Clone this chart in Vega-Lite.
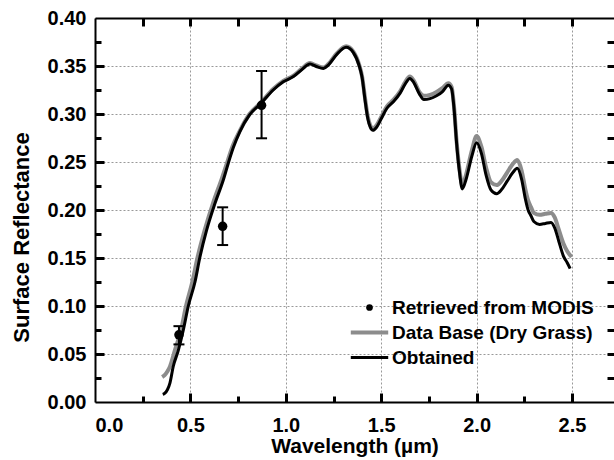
{
  "$schema": "https://vega.github.io/schema/vega-lite/v6.json",
  "width": 519,
  "height": 384,
  "autosize": {"type": "none"},
  "padding": {"left": 95, "top": 18, "right": 0, "bottom": 58},
  "background": "white",
  "config": {
    "view": {"stroke": null},
    "axis": {
      "labelFont": "Liberation Sans", "labelFontWeight": "bold", "labelFontSize": 20, "labelColor": "black",
      "titleFont": "Liberation Sans", "titleFontWeight": "bold", "titleFontSize": 21, "titleColor": "black",
      "domain": false, "domainColor": "black", "domainWidth": 2, "grid": false
    }
  },
  "datasets": {
    "curves": [
      {"series": "Data Base (Dry Grass)", "wavelength": 0.352, "reflectance": 0.026},
      {"series": "Data Base (Dry Grass)", "wavelength": 0.365, "reflectance": 0.028},
      {"series": "Data Base (Dry Grass)", "wavelength": 0.38, "reflectance": 0.032},
      {"series": "Data Base (Dry Grass)", "wavelength": 0.393, "reflectance": 0.037},
      {"series": "Data Base (Dry Grass)", "wavelength": 0.419, "reflectance": 0.054},
      {"series": "Data Base (Dry Grass)", "wavelength": 0.451, "reflectance": 0.075},
      {"series": "Data Base (Dry Grass)", "wavelength": 0.477, "reflectance": 0.100},
      {"series": "Data Base (Dry Grass)", "wavelength": 0.51, "reflectance": 0.125},
      {"series": "Data Base (Dry Grass)", "wavelength": 0.538, "reflectance": 0.151},
      {"series": "Data Base (Dry Grass)", "wavelength": 0.575, "reflectance": 0.179},
      {"series": "Data Base (Dry Grass)", "wavelength": 0.62, "reflectance": 0.208},
      {"series": "Data Base (Dry Grass)", "wavelength": 0.665, "reflectance": 0.233},
      {"series": "Data Base (Dry Grass)", "wavelength": 0.695, "reflectance": 0.251},
      {"series": "Data Base (Dry Grass)", "wavelength": 0.72, "reflectance": 0.266},
      {"series": "Data Base (Dry Grass)", "wavelength": 0.76, "reflectance": 0.283},
      {"series": "Data Base (Dry Grass)", "wavelength": 0.81, "reflectance": 0.300},
      {"series": "Data Base (Dry Grass)", "wavelength": 0.87, "reflectance": 0.312},
      {"series": "Data Base (Dry Grass)", "wavelength": 0.934, "reflectance": 0.326},
      {"series": "Data Base (Dry Grass)", "wavelength": 0.987, "reflectance": 0.3345},
      {"series": "Data Base (Dry Grass)", "wavelength": 1.04, "reflectance": 0.340},
      {"series": "Data Base (Dry Grass)", "wavelength": 1.083, "reflectance": 0.347},
      {"series": "Data Base (Dry Grass)", "wavelength": 1.127, "reflectance": 0.353},
      {"series": "Data Base (Dry Grass)", "wavelength": 1.16, "reflectance": 0.3505},
      {"series": "Data Base (Dry Grass)", "wavelength": 1.197, "reflectance": 0.3485},
      {"series": "Data Base (Dry Grass)", "wavelength": 1.223, "reflectance": 0.352},
      {"series": "Data Base (Dry Grass)", "wavelength": 1.267, "reflectance": 0.363},
      {"series": "Data Base (Dry Grass)", "wavelength": 1.316, "reflectance": 0.3705},
      {"series": "Data Base (Dry Grass)", "wavelength": 1.354, "reflectance": 0.365},
      {"series": "Data Base (Dry Grass)", "wavelength": 1.385, "reflectance": 0.351},
      {"series": "Data Base (Dry Grass)", "wavelength": 1.40, "reflectance": 0.339},
      {"series": "Data Base (Dry Grass)", "wavelength": 1.415, "reflectance": 0.317},
      {"series": "Data Base (Dry Grass)", "wavelength": 1.43, "reflectance": 0.297},
      {"series": "Data Base (Dry Grass)", "wavelength": 1.443, "reflectance": 0.288},
      {"series": "Data Base (Dry Grass)", "wavelength": 1.457, "reflectance": 0.285},
      {"series": "Data Base (Dry Grass)", "wavelength": 1.475, "reflectance": 0.288},
      {"series": "Data Base (Dry Grass)", "wavelength": 1.50, "reflectance": 0.297},
      {"series": "Data Base (Dry Grass)", "wavelength": 1.53, "reflectance": 0.308},
      {"series": "Data Base (Dry Grass)", "wavelength": 1.565, "reflectance": 0.315},
      {"series": "Data Base (Dry Grass)", "wavelength": 1.60, "reflectance": 0.324},
      {"series": "Data Base (Dry Grass)", "wavelength": 1.625, "reflectance": 0.333},
      {"series": "Data Base (Dry Grass)", "wavelength": 1.65, "reflectance": 0.339},
      {"series": "Data Base (Dry Grass)", "wavelength": 1.67, "reflectance": 0.335},
      {"series": "Data Base (Dry Grass)", "wavelength": 1.70, "reflectance": 0.323},
      {"series": "Data Base (Dry Grass)", "wavelength": 1.724, "reflectance": 0.319},
      {"series": "Data Base (Dry Grass)", "wavelength": 1.756, "reflectance": 0.320},
      {"series": "Data Base (Dry Grass)", "wavelength": 1.79, "reflectance": 0.323},
      {"series": "Data Base (Dry Grass)", "wavelength": 1.82, "reflectance": 0.327},
      {"series": "Data Base (Dry Grass)", "wavelength": 1.852, "reflectance": 0.332},
      {"series": "Data Base (Dry Grass)", "wavelength": 1.869, "reflectance": 0.328},
      {"series": "Data Base (Dry Grass)", "wavelength": 1.882, "reflectance": 0.307},
      {"series": "Data Base (Dry Grass)", "wavelength": 1.895, "reflectance": 0.272},
      {"series": "Data Base (Dry Grass)", "wavelength": 1.91, "reflectance": 0.243},
      {"series": "Data Base (Dry Grass)", "wavelength": 1.925, "reflectance": 0.226},
      {"series": "Data Base (Dry Grass)", "wavelength": 1.945, "reflectance": 0.237},
      {"series": "Data Base (Dry Grass)", "wavelength": 1.975, "reflectance": 0.262},
      {"series": "Data Base (Dry Grass)", "wavelength": 2.0, "reflectance": 0.277},
      {"series": "Data Base (Dry Grass)", "wavelength": 2.025, "reflectance": 0.266},
      {"series": "Data Base (Dry Grass)", "wavelength": 2.05, "reflectance": 0.244},
      {"series": "Data Base (Dry Grass)", "wavelength": 2.075, "reflectance": 0.229},
      {"series": "Data Base (Dry Grass)", "wavelength": 2.105, "reflectance": 0.226},
      {"series": "Data Base (Dry Grass)", "wavelength": 2.13, "reflectance": 0.230},
      {"series": "Data Base (Dry Grass)", "wavelength": 2.16, "reflectance": 0.239},
      {"series": "Data Base (Dry Grass)", "wavelength": 2.19, "reflectance": 0.248},
      {"series": "Data Base (Dry Grass)", "wavelength": 2.213, "reflectance": 0.252},
      {"series": "Data Base (Dry Grass)", "wavelength": 2.236, "reflectance": 0.241},
      {"series": "Data Base (Dry Grass)", "wavelength": 2.255, "reflectance": 0.222},
      {"series": "Data Base (Dry Grass)", "wavelength": 2.27, "reflectance": 0.210},
      {"series": "Data Base (Dry Grass)", "wavelength": 2.285, "reflectance": 0.203},
      {"series": "Data Base (Dry Grass)", "wavelength": 2.30, "reflectance": 0.197},
      {"series": "Data Base (Dry Grass)", "wavelength": 2.33, "reflectance": 0.195},
      {"series": "Data Base (Dry Grass)", "wavelength": 2.36, "reflectance": 0.196},
      {"series": "Data Base (Dry Grass)", "wavelength": 2.39, "reflectance": 0.197},
      {"series": "Data Base (Dry Grass)", "wavelength": 2.41, "reflectance": 0.192},
      {"series": "Data Base (Dry Grass)", "wavelength": 2.43, "reflectance": 0.180},
      {"series": "Data Base (Dry Grass)", "wavelength": 2.455, "reflectance": 0.165},
      {"series": "Data Base (Dry Grass)", "wavelength": 2.475, "reflectance": 0.157},
      {"series": "Data Base (Dry Grass)", "wavelength": 2.498, "reflectance": 0.151},
      {"series": "Obtained", "wavelength": 0.355, "reflectance": 0.008},
      {"series": "Obtained", "wavelength": 0.365, "reflectance": 0.009},
      {"series": "Obtained", "wavelength": 0.38, "reflectance": 0.013},
      {"series": "Obtained", "wavelength": 0.393, "reflectance": 0.020},
      {"series": "Obtained", "wavelength": 0.41, "reflectance": 0.037},
      {"series": "Obtained", "wavelength": 0.437, "reflectance": 0.054},
      {"series": "Obtained", "wavelength": 0.463, "reflectance": 0.075},
      {"series": "Obtained", "wavelength": 0.489, "reflectance": 0.100},
      {"series": "Obtained", "wavelength": 0.524, "reflectance": 0.125},
      {"series": "Obtained", "wavelength": 0.55, "reflectance": 0.151},
      {"series": "Obtained", "wavelength": 0.585, "reflectance": 0.179},
      {"series": "Obtained", "wavelength": 0.629, "reflectance": 0.207},
      {"series": "Obtained", "wavelength": 0.672, "reflectance": 0.231},
      {"series": "Obtained", "wavelength": 0.699, "reflectance": 0.249},
      {"series": "Obtained", "wavelength": 0.725, "reflectance": 0.265},
      {"series": "Obtained", "wavelength": 0.76, "reflectance": 0.282},
      {"series": "Obtained", "wavelength": 0.81, "reflectance": 0.299},
      {"series": "Obtained", "wavelength": 0.87, "reflectance": 0.311},
      {"series": "Obtained", "wavelength": 0.934, "reflectance": 0.325},
      {"series": "Obtained", "wavelength": 0.987, "reflectance": 0.3335},
      {"series": "Obtained", "wavelength": 1.04, "reflectance": 0.339},
      {"series": "Obtained", "wavelength": 1.083, "reflectance": 0.346},
      {"series": "Obtained", "wavelength": 1.127, "reflectance": 0.352},
      {"series": "Obtained", "wavelength": 1.16, "reflectance": 0.3495},
      {"series": "Obtained", "wavelength": 1.197, "reflectance": 0.3475},
      {"series": "Obtained", "wavelength": 1.223, "reflectance": 0.351},
      {"series": "Obtained", "wavelength": 1.267, "reflectance": 0.362},
      {"series": "Obtained", "wavelength": 1.316, "reflectance": 0.3695},
      {"series": "Obtained", "wavelength": 1.354, "reflectance": 0.364},
      {"series": "Obtained", "wavelength": 1.385, "reflectance": 0.350},
      {"series": "Obtained", "wavelength": 1.40, "reflectance": 0.338},
      {"series": "Obtained", "wavelength": 1.415, "reflectance": 0.315},
      {"series": "Obtained", "wavelength": 1.43, "reflectance": 0.295},
      {"series": "Obtained", "wavelength": 1.443, "reflectance": 0.286},
      {"series": "Obtained", "wavelength": 1.457, "reflectance": 0.283},
      {"series": "Obtained", "wavelength": 1.475, "reflectance": 0.286},
      {"series": "Obtained", "wavelength": 1.50, "reflectance": 0.295},
      {"series": "Obtained", "wavelength": 1.53, "reflectance": 0.306},
      {"series": "Obtained", "wavelength": 1.565, "reflectance": 0.313},
      {"series": "Obtained", "wavelength": 1.60, "reflectance": 0.322},
      {"series": "Obtained", "wavelength": 1.625, "reflectance": 0.331},
      {"series": "Obtained", "wavelength": 1.65, "reflectance": 0.337},
      {"series": "Obtained", "wavelength": 1.67, "reflectance": 0.333},
      {"series": "Obtained", "wavelength": 1.70, "reflectance": 0.321},
      {"series": "Obtained", "wavelength": 1.724, "reflectance": 0.315},
      {"series": "Obtained", "wavelength": 1.756, "reflectance": 0.316},
      {"series": "Obtained", "wavelength": 1.79, "reflectance": 0.319},
      {"series": "Obtained", "wavelength": 1.82, "reflectance": 0.323},
      {"series": "Obtained", "wavelength": 1.852, "reflectance": 0.330},
      {"series": "Obtained", "wavelength": 1.869, "reflectance": 0.326},
      {"series": "Obtained", "wavelength": 1.882, "reflectance": 0.305},
      {"series": "Obtained", "wavelength": 1.895, "reflectance": 0.270},
      {"series": "Obtained", "wavelength": 1.91, "reflectance": 0.240},
      {"series": "Obtained", "wavelength": 1.925, "reflectance": 0.222},
      {"series": "Obtained", "wavelength": 1.945, "reflectance": 0.232},
      {"series": "Obtained", "wavelength": 1.975, "reflectance": 0.256},
      {"series": "Obtained", "wavelength": 2.0, "reflectance": 0.270},
      {"series": "Obtained", "wavelength": 2.025, "reflectance": 0.259},
      {"series": "Obtained", "wavelength": 2.05, "reflectance": 0.236},
      {"series": "Obtained", "wavelength": 2.075, "reflectance": 0.221},
      {"series": "Obtained", "wavelength": 2.105, "reflectance": 0.217},
      {"series": "Obtained", "wavelength": 2.13, "reflectance": 0.221},
      {"series": "Obtained", "wavelength": 2.16, "reflectance": 0.230},
      {"series": "Obtained", "wavelength": 2.19, "reflectance": 0.239},
      {"series": "Obtained", "wavelength": 2.213, "reflectance": 0.2435},
      {"series": "Obtained", "wavelength": 2.236, "reflectance": 0.232},
      {"series": "Obtained", "wavelength": 2.255, "reflectance": 0.212},
      {"series": "Obtained", "wavelength": 2.27, "reflectance": 0.200},
      {"series": "Obtained", "wavelength": 2.285, "reflectance": 0.194},
      {"series": "Obtained", "wavelength": 2.30, "reflectance": 0.188},
      {"series": "Obtained", "wavelength": 2.33, "reflectance": 0.185},
      {"series": "Obtained", "wavelength": 2.36, "reflectance": 0.186},
      {"series": "Obtained", "wavelength": 2.39, "reflectance": 0.187},
      {"series": "Obtained", "wavelength": 2.41, "reflectance": 0.181},
      {"series": "Obtained", "wavelength": 2.43, "reflectance": 0.168},
      {"series": "Obtained", "wavelength": 2.455, "reflectance": 0.152},
      {"series": "Obtained", "wavelength": 2.475, "reflectance": 0.145},
      {"series": "Obtained", "wavelength": 2.49, "reflectance": 0.139}
    ],
    "modis": [
      {"wavelength": 0.44, "reflectance": 0.070, "low": 0.060, "high": 0.079},
      {"wavelength": 0.669, "reflectance": 0.183, "low": 0.1635, "high": 0.2028},
      {"wavelength": 0.873, "reflectance": 0.309, "low": 0.2747, "high": 0.3448}
    ]
  },
  "layer": [
    {
      "data": {"name": "curves"},
      "transform": [{"filter": "datum.series === 'Data Base (Dry Grass)'"}],
      "mark": {"type": "line", "strokeWidth": 4, "interpolate": "monotone"},
      "encoding": {
        "x": {"field": "wavelength", "type": "quantitative", "scale": {"domain": [0, 2.7201], "nice": false, "zero": false},
          "axis": {"orient": "bottom", "values": [0, 0.5, 1, 1.5, 2, 2.5], "format": ".1f", "ticks": false, "domain": true, "grid": true, "gridColor": "#999999", "gridDash": [2, 2], "gridWidth": 1, "labelPadding": 13, "title": "Wavelength (µm)", "titleY": 50, "titleBaseline": "alphabetic"}},
        "y": {"field": "reflectance", "type": "quantitative", "scale": {"domain": [0, 0.4], "nice": false, "zero": false},
          "axis": {"orient": "left", "values": [0, 0.05, 0.1, 0.15, 0.2, 0.25, 0.3, 0.35, 0.4], "format": ".2f", "ticks": false, "domain": true, "grid": true, "gridColor": "#999999", "gridDash": [2, 2], "gridWidth": 1, "labelPadding": 9, "title": "Surface Reflectance", "titleFontSize": 22, "titleX": -67, "titleY": 219, "titleBaseline": "alphabetic"}},
        "stroke": {"field": "series", "type": "nominal",
          "scale": {"domain": ["Retrieved from MODIS", "Data Base (Dry Grass)", "Obtained"], "range": ["black", "#8c8c8c", "black"]},
          "legend": {"orient": "none", "legendX": 265, "legendY": 280, "title": null, "padding": 0, "rowPadding": 5, "symbolSize": 40, "labelOffset": 13, "labelLimit": 0,
            "labelFont": "Liberation Sans", "labelFontWeight": "bold", "labelFontSize": 19, "labelColor": "black",
            "encode": {"symbols": {"update": {
              "shape": {"signal": "datum.value === 'Retrieved from MODIS' ? 'circle' : 'stroke'"},
              "size": {"signal": "datum.value === 'Retrieved from MODIS' ? 45 : 1400"},
              "fill": {"signal": "datum.value === 'Retrieved from MODIS' ? 'black' : 'transparent'"},
              "strokeWidth": {"signal": "datum.value === 'Retrieved from MODIS' ? 0 : (datum.value === 'Obtained' ? 3 : 4)"}
            }}}}}
      }
    },
    {
      "data": {"name": "modis"},
      "mark": {"type": "point", "opacity": 0},
      "encoding": {
        "x": {"field": "wavelength", "type": "quantitative", "axis": {"orient": "top", "values": [0.25, 0.5, 0.75, 1, 1.25, 1.5, 1.75, 2, 2.25, 2.5], "ticks": true, "tickSize": -8, "tickWidth": 3, "tickColor": "black", "labels": false, "domain": true, "grid": false, "title": null, "zindex": 1}},
        "y": {"field": "reflectance", "type": "quantitative", "axis": {"orient": "left", "values": [0.05, 0.1, 0.15, 0.2, 0.25, 0.3, 0.35], "ticks": true, "tickSize": -9, "tickWidth": 3, "tickColor": "black", "labels": false, "domain": false, "grid": false, "title": null, "zindex": 1}}
      }
    },
    {
      "data": {"name": "modis"},
      "mark": {"type": "point", "opacity": 0},
      "encoding": {
        "x": {"field": "wavelength", "type": "quantitative", "axis": {"orient": "bottom", "values": [0.5, 1, 1.5, 2, 2.5], "ticks": true, "tickSize": -9, "tickWidth": 3, "tickColor": "black", "labels": false, "domain": false, "grid": false, "title": null, "zindex": 1}},
        "y": {"field": "reflectance", "type": "quantitative", "axis": {"orient": "left", "values": [0.025, 0.075, 0.125, 0.175, 0.225, 0.275, 0.325, 0.375], "ticks": true, "tickSize": -6, "tickWidth": 3, "tickColor": "black", "labels": false, "domain": false, "grid": false, "title": null, "zindex": 1}}
      }
    },
    {
      "data": {"name": "modis"},
      "mark": {"type": "point", "opacity": 0},
      "encoding": {
        "x": {"field": "wavelength", "type": "quantitative", "axis": {"orient": "bottom", "values": [0.25, 0.75, 1.25, 1.75, 2.25], "ticks": true, "tickSize": -6, "tickWidth": 3, "tickColor": "black", "labels": false, "domain": false, "grid": false, "title": null, "zindex": 1}},
        "y": {"field": "reflectance", "type": "quantitative", "axis": {"orient": "right", "values": [0.025, 0.05, 0.075, 0.1, 0.125, 0.15, 0.175, 0.2, 0.225, 0.25, 0.275, 0.3, 0.325, 0.35, 0.375], "ticks": true, "tickSize": -7, "tickWidth": 3, "tickColor": "black", "labels": false, "domain": false, "grid": false, "title": null, "zindex": 1}}
      }
    },
    {
      "data": {"name": "curves"},
      "transform": [{"filter": "datum.series === 'Obtained'"}],
      "mark": {"type": "line", "strokeWidth": 3, "interpolate": "monotone"},
      "encoding": {
        "x": {"field": "wavelength", "type": "quantitative", "scale": {"domain": [0, 2.7201], "nice": false, "zero": false}, "axis": null},
        "y": {"field": "reflectance", "type": "quantitative", "scale": {"domain": [0, 0.4], "nice": false, "zero": false}, "axis": null},
        "stroke": {"field": "series", "type": "nominal"}
      }
    },
    {
      "data": {"name": "modis"},
      "mark": {"type": "rule", "strokeWidth": 2, "color": "black"},
      "encoding": {
        "x": {"field": "wavelength", "type": "quantitative", "axis": null},
        "y": {"field": "low", "type": "quantitative", "axis": null},
        "y2": {"field": "high"}
      }
    },
    {
      "data": {"name": "modis"},
      "mark": {"type": "tick", "orient": "horizontal", "size": 11, "thickness": 2, "color": "black", "opacity": 1},
      "encoding": {
        "x": {"field": "wavelength", "type": "quantitative", "axis": null},
        "y": {"field": "high", "type": "quantitative", "axis": null}
      }
    },
    {
      "data": {"name": "modis"},
      "mark": {"type": "tick", "orient": "horizontal", "size": 11, "thickness": 2, "color": "black", "opacity": 1},
      "encoding": {
        "x": {"field": "wavelength", "type": "quantitative", "axis": null},
        "y": {"field": "low", "type": "quantitative", "axis": null}
      }
    },
    {
      "data": {"name": "modis"},
      "mark": {"type": "point", "filled": true, "size": 90, "color": "black", "opacity": 1},
      "encoding": {
        "x": {"field": "wavelength", "type": "quantitative", "axis": null},
        "y": {"field": "reflectance", "type": "quantitative", "axis": null}
      }
    }
  ],
  "resolve": {"axis": {"x": "independent", "y": "independent"}}
}
